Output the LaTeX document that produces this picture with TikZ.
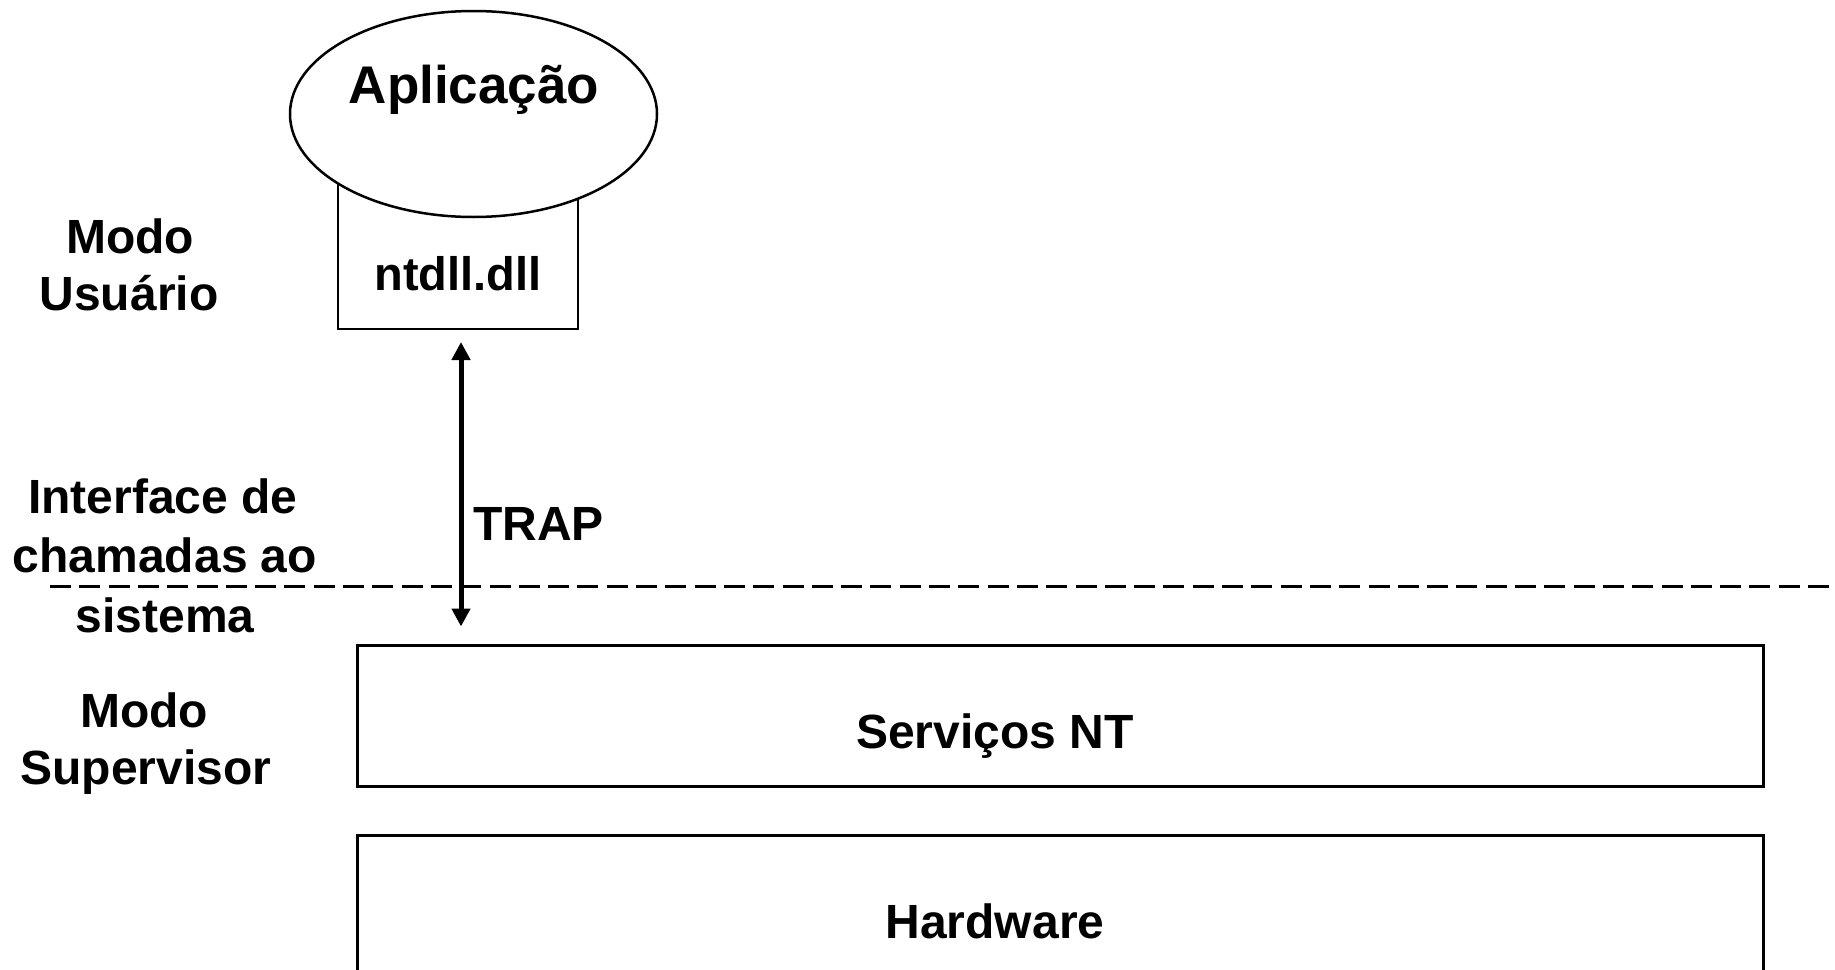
\documentclass[tikz,border=0pt]{standalone}
\usepackage{fontspec}
\setmainfont{Liberation Sans}
\usetikzlibrary{arrows.meta,shapes.geometric}
\begin{document}
\begin{tikzpicture}[x=1pt,y=-1pt,
  lbl/.style={font=\fontsize{48}{58}\selectfont\bfseries, anchor=base, inner sep=0pt},
  boxline/.style={draw, line width=3pt, inner sep=0pt},
  trapdart/.style={line width=5pt, {Triangle[length=18pt,width=18pt]}-{Triangle[length=18pt,width=18pt]}},
  divider/.style={line width=3pt, dash pattern=on 21pt off 8.3pt}
]
\useasboundingbox (0,0) rectangle (1835,969);
% ntdll box (top hidden under the ellipse)
\node[draw, line width=2.5pt, minimum width=240pt, minimum height=160pt, inner sep=0pt, anchor=south] (ntdllbox) at (458,330) {};
% application ellipse
\node[ellipse, draw, fill=white, line width=2.5pt, minimum width=367pt, minimum height=206pt, inner sep=0pt] (app) at (473.5,114) {};
\node[lbl, font=\fontsize{53}{60}\selectfont\bfseries] (apptxt) at (474,103) {Aplicação};
\node[lbl, font=\fontsize{47}{56}\selectfont\bfseries] (ntdll) at (458,290) {ntdll.dll};
% kernel boxes
\node[boxline, minimum width=1406pt, minimum height=141pt] (serv) at (1060,715.5) {};
\node[lbl] (servtxt) at (995,748) {Serviços NT};
\node[boxline, minimum width=1406pt, minimum height=220pt] (hw) at (1060,945) {};
\node[lbl] (hwtxt) at (995,938) {Hardware};
% divider
\coordinate (dashL) at (50,586);
\coordinate (dashR) at (1835,586);
\draw[divider] (dashL) -- (dashR);
% TRAP arrow
\draw[trapdart, shorten <=12pt, shorten >=17pt] ([xshift=3pt]ntdllbox.south) -- ([xshift=3pt]ntdllbox.south |- serv.north);
\node[lbl, anchor=base west] (trap) at (473,540) {TRAP};
% left labels
\node[lbl] (modo1) at (130,253) {Modo};
\node[lbl] (usuario) at (129,310) {Usuário};
\node[lbl] (iface1) at (163,513) {Interface de};
\node[lbl] (iface2) at (165,572) {chamadas ao};
\node[lbl] (iface3) at (165,632) {sistema};
\node[lbl] (modo2) at (144,727) {Modo};
\node[lbl] (superv) at (146,784) {Supervisor};
\end{tikzpicture}
\end{document}
